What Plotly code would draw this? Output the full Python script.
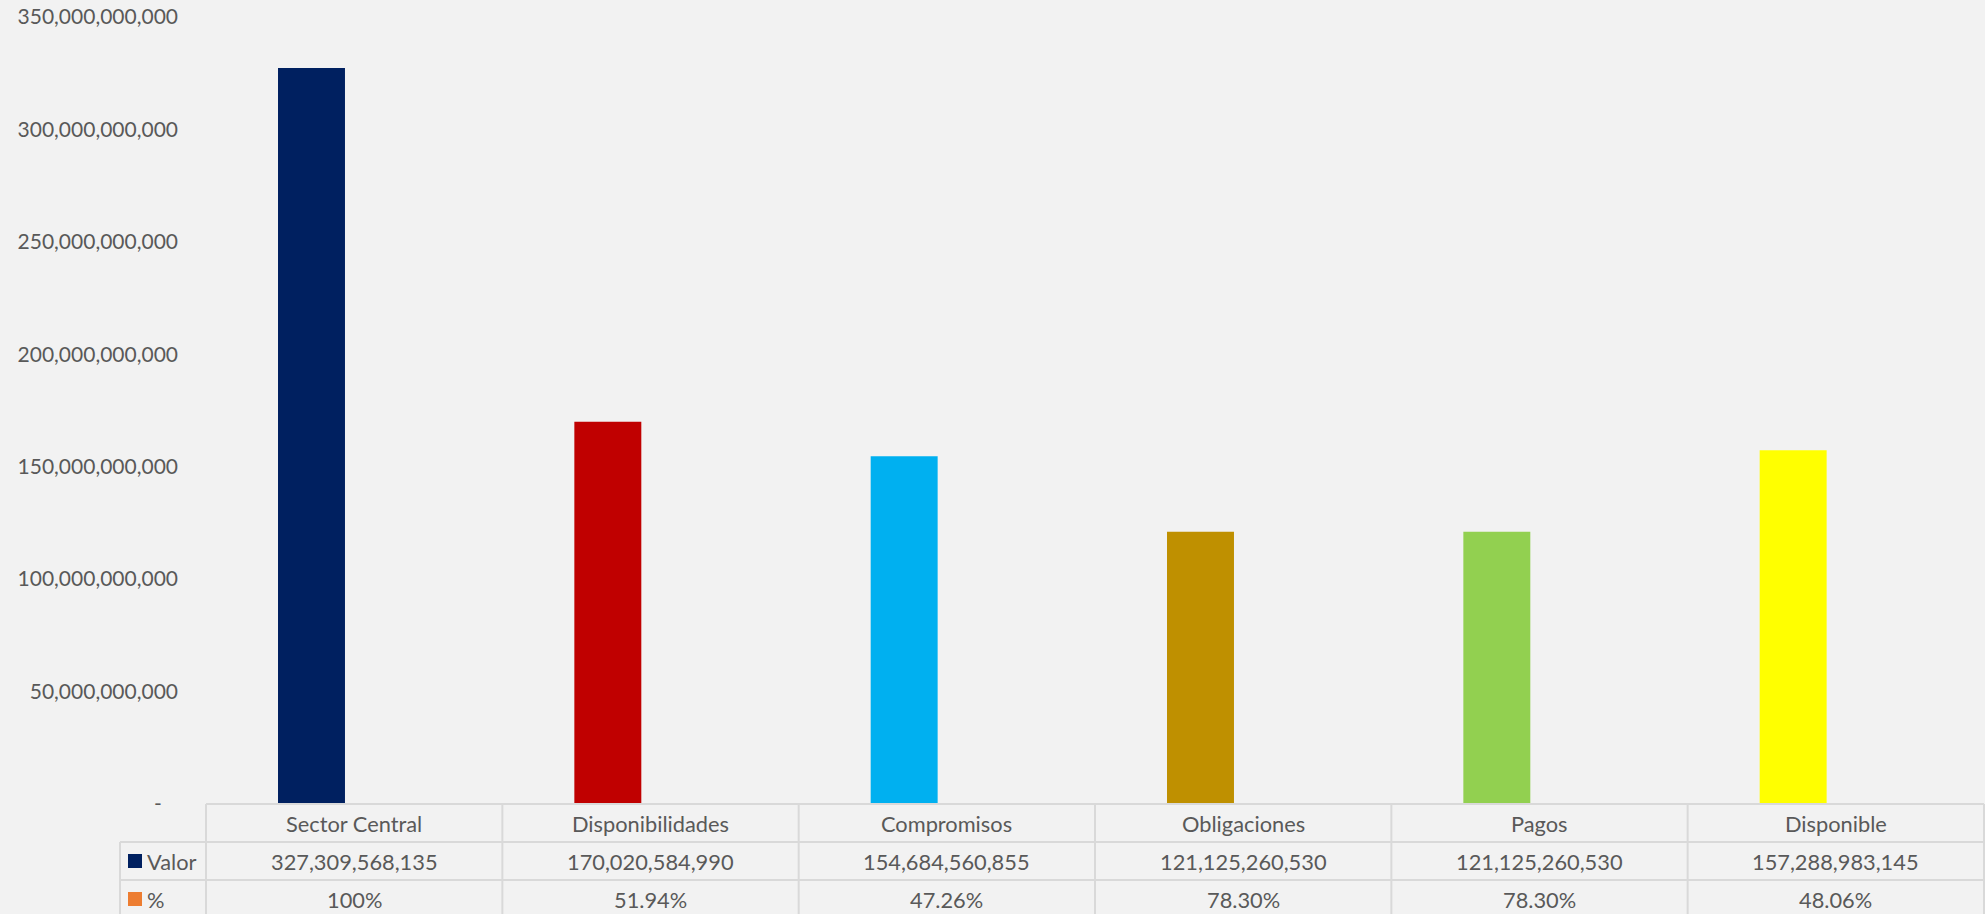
import plotly.graph_objects as go

# Datos del gráfico
categorias = ["Sector Central", "Disponibilidades", "Compromisos", "Obligaciones", "Pagos", "Disponible"]
valores = [327309568135, 170020584990, 154684560855, 121125260530, 121125260530, 157288983145]
porcentajes = [1.0, 0.5194, 0.4726, 0.7830, 0.7830, 0.4806]
colores_barras = ["#002060", "#C00000", "#00B0F0", "#BF9000", "#92D050", "#FFFF00"]
ticks_y = [0, 50e9, 100e9, 150e9, 200e9, 250e9, 300e9, 350e9]

FUENTE = "Lato"
GRIS_TEXTO = "#595959"
GRIS_LINEA = "#D9D9D9"
FONDO = "#F2F2F2"
ALTO_FILA = 38
ANCHO_LEYENDA = 86


def formato_pct(p):
    """Formatea el porcentaje como en la tabla de Excel."""
    if p == 1:
        return "100%"
    return f"{p * 100:.2f}%"


def etiqueta_eje(v):
    # Formato contable: el cero se muestra como guion
    if v == 0:
        return "-\u00a0\u00a0\u00a0"
    return f"{int(v):,}"


fig = go.Figure()

fig.add_trace(go.Bar(
    x=categorias,
    y=valores,
    name="Valor",
    marker=dict(color=colores_barras, line=dict(width=0)),
    width=0.226,
    offset=-0.257,
    showlegend=False,
))
fig.add_trace(go.Bar(
    x=categorias,
    y=porcentajes,
    name="%",
    marker=dict(color="#ED7D31", line=dict(width=0)),
    width=0.226,
    offset=-0.031,
    showlegend=False,
))

# Tabla de datos debajo del gráfico (líneas y textos)
shapes = []
anotaciones = []
n = len(categorias)
fuente_tabla = dict(family=FUENTE, size=21.8, color=GRIS_TEXTO)

# líneas verticales de las columnas
for i in range(n + 1):
    shapes.append(dict(type="line", xref="paper", x0=i / n, x1=i / n,
                       yref="paper", ysizemode="pixel", yanchor=0, y0=0, y1=-3 * ALTO_FILA,
                       line=dict(color=GRIS_LINEA, width=2)))
# línea izquierda de la columna de leyenda
shapes.append(dict(type="line", xref="paper", xsizemode="pixel", xanchor=0,
                   x0=-ANCHO_LEYENDA, x1=-ANCHO_LEYENDA,
                   yref="paper", ysizemode="pixel", yanchor=0, y0=-ALTO_FILA, y1=-3 * ALTO_FILA,
                   line=dict(color=GRIS_LINEA, width=2)))
# línea superior del encabezado
shapes.append(dict(type="line", xref="paper", x0=0, x1=1,
                   yref="paper", ysizemode="pixel", yanchor=0, y0=0, y1=0,
                   line=dict(color=GRIS_LINEA, width=2)))
# líneas horizontales de las filas
for fila in (1, 2, 3):
    shapes.append(dict(type="line", xref="paper", xsizemode="pixel", xanchor=0,
                       x0=-ANCHO_LEYENDA, x1=2000,
                       yref="paper", ysizemode="pixel", yanchor=0,
                       y0=-fila * ALTO_FILA, y1=-fila * ALTO_FILA,
                       line=dict(color=GRIS_LINEA, width=2)))

filas = [
    ("Valor", colores_barras[0], [f"{v:,}" for v in valores]),
    ("%", "#ED7D31", [formato_pct(p) for p in porcentajes]),
]

for cat in categorias:
    anotaciones.append(dict(x=cat, xref="x", y=0, yref="paper", yshift=-ALTO_FILA / 2,
                            text=cat, showarrow=False, xanchor="center", yanchor="middle",
                            font=fuente_tabla))

for k, (nombre, color, textos) in enumerate(filas):
    centro = -(k + 1.5) * ALTO_FILA
    # cuadrado de la leyenda
    shapes.append(dict(type="rect", xref="paper", xsizemode="pixel", xanchor=0, x0=-78, x1=-64,
                       yref="paper", ysizemode="pixel", yanchor=0, y0=centro - 7, y1=centro + 7,
                       fillcolor=color, line=dict(width=0)))
    anotaciones.append(dict(x=0, xref="paper", xshift=-61, y=0, yref="paper", yshift=centro,
                            text=nombre, showarrow=False, xanchor="left", yanchor="middle",
                            font=fuente_tabla))
    for cat, t in zip(categorias, textos):
        anotaciones.append(dict(x=cat, xref="x", y=0, yref="paper", yshift=centro,
                                text=t, showarrow=False, xanchor="center", yanchor="middle",
                                font=fuente_tabla))

fig.update_layout(
    width=1985,
    height=914,
    margin=dict(l=206, r=1, t=17, b=110),
    paper_bgcolor=FONDO,
    plot_bgcolor=FONDO,
    barmode="overlay",
    font=dict(family=FUENTE, size=21, color=GRIS_TEXTO),
    xaxis=dict(showticklabels=False, showgrid=False, zeroline=False, showline=False,
               range=[-0.5, n - 0.5]),
    yaxis=dict(range=[0, 350e9], tickvals=ticks_y, ticktext=[etiqueta_eje(v) for v in ticks_y],
               showgrid=False, zeroline=False, showline=False, ticks="",
               ticklabelstandoff=27),
    shapes=shapes,
    annotations=anotaciones,
)

fig.write_html("out.html", config={"displayModeBar": False},
               post_script="document.body.style.margin='0';")
